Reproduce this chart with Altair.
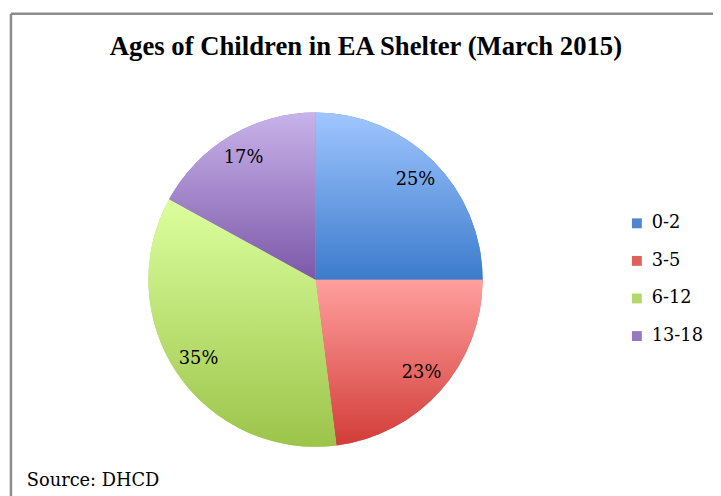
import altair as alt
import pandas as pd

categories = ["0-2", "3-5", "6-12", "13-18"]
values = [25, 23, 35, 17]
top_colors = ["#a0c6ff", "#ffa09e", "#dcff9e", "#c8b3ea"]
bottom_colors = ["#3c7bcc", "#d23c38", "#9cc44a", "#7c58a8"]
mid_colors = ["#4f86d0", "#e0605c", "#b3d86a", "#9478c0"]

df = pd.DataFrame({"cat": categories, "value": values, "idx": list(range(len(categories)))})

def grad(top, bottom):
    return {"gradient": "linear", "x1": 0, "y1": 0, "x2": 0, "y2": 1,
            "stops": [{"offset": 0, "color": top}, {"offset": 1, "color": bottom}]}

CX, CY, R = 311, 272, 169
base = alt.Chart(df)

theta = alt.Theta("value:Q", stack=True)
order = alt.Order("idx:Q", sort="ascending")

legend_layer = base.mark_arc(radius=R).encode(
    theta=theta, order=order,
    x=alt.value(CX), y=alt.value(CY),
    color=alt.Color("cat:N", scale=alt.Scale(domain=categories, range=mid_colors),
                    legend=alt.Legend(title=None, orient="none", legendX=627, legendY=206,
                                      symbolType="square", symbolSize=100,
                                      labelFont="DejaVu Serif", labelFontSize=18,
                                      labelColor="#000000", rowPadding=20, labelOffset=6,
                                      symbolStrokeWidth=0)),
)

fill_rule = alt.when(alt.datum.cat == categories[0]).then(alt.value(grad(top_colors[0], bottom_colors[0])))
for c, t, b in zip(categories[1:3], top_colors[1:3], bottom_colors[1:3]):
    fill_rule = fill_rule.when(alt.datum.cat == c).then(alt.value(grad(t, b)))
fill_rule = fill_rule.otherwise(alt.value(grad(top_colors[3], bottom_colors[3])))

grad_layer = base.mark_arc(radius=R).encode(
    theta=theta, order=order,
    x=alt.value(CX), y=alt.value(CY),
    fill=fill_rule,
)

labels = base.transform_calculate(label="datum.value + '%'").mark_text(
    radius=143, font="DejaVu Serif", fontSize=18, color="#000000"
).encode(theta=theta, order=order, x=alt.value(CX), y=alt.value(CY), text="label:N")

title = alt.Chart(pd.DataFrame({"t": ["Ages of Children in EA Shelter (March 2015)"]})).mark_text(
    font="Liberation Serif", fontSize=27, fontWeight="bold", color="#000000"
).encode(x=alt.value(362), y=alt.value(37), text="t:N")

source = alt.Chart(pd.DataFrame({"t": ["Source: DHCD"]})).mark_text(
    font="DejaVu Serif", fontSize=18, color="#000000", align="left"
).encode(x=alt.value(19), y=alt.value(476), text="t:N")

border_top = alt.Chart(pd.DataFrame({"a": [0]})).mark_rule(color="#8c8c8c", strokeWidth=2.5).encode(
    x=alt.value(3), x2=alt.value(720), y=alt.value(3))
border_left = alt.Chart(pd.DataFrame({"a": [0]})).mark_rule(color="#8c8c8c", strokeWidth=2.5).encode(
    x=alt.value(3), y=alt.value(3), y2=alt.value(500))

chart = alt.layer(legend_layer, grad_layer, labels, title, source, border_top, border_left).properties(
    width=713, height=488, autosize=alt.AutoSizeParams(type="none"), padding=0
).configure_view(stroke=None)

chart.save("out.html", embed_options={"renderer": "svg", "actions": False})
